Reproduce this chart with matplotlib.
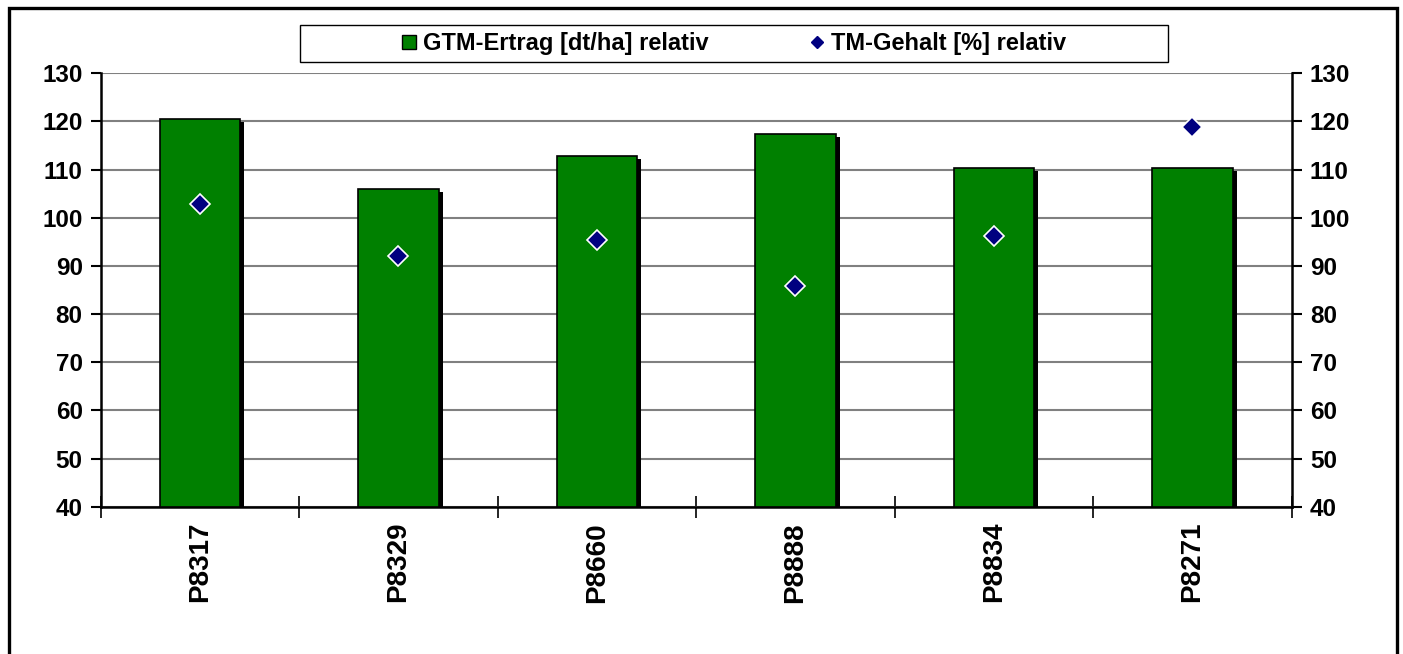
import matplotlib
matplotlib.use("Agg")
import matplotlib.pyplot as plt
from matplotlib.patches import Rectangle
from matplotlib.lines import Line2D
from matplotlib.transforms import ScaledTranslation
import numpy as np

categories = ["P8317", "P8329", "P8660", "P8888", "P8834", "P8271"]
ertrag = [120.5, 105.9, 112.8, 117.4, 110.3, 110.3]
tm_gehalt = [102.8, 92.1, 95.4, 85.8, 96.2, 118.8]
yticks = [40, 50, 60, 70, 80, 90, 100, 110, 120, 130]
label_bar = "GTM-Ertrag [dt/ha] relativ"
label_pt = "TM-Gehalt [%] relativ"

plt.rcParams['font.family'] = ['Liberation Sans', 'DejaVu Sans']
plt.rcParams['font.weight'] = 'bold'

W, H = 1403, 654
fig = plt.figure(figsize=(W / 100, H / 100), dpi=100)
ax = fig.add_axes([0.0718, 0.2252, 0.9207 - 0.0718, 0.8879 - 0.2252])

x = np.arange(len(categories))
width = 0.405
ymin = yticks[0]

# shadow
shadow_tr = ax.transData + ScaledTranslation(4 / 100, -3 / 100, fig.dpi_scale_trans)
for xi, v in zip(x, ertrag):
    r = Rectangle((xi - width / 2, ymin), width, v - ymin, facecolor='black',
                  edgecolor='none', transform=shadow_tr, zorder=2, clip_on=True)
    ax.add_patch(r)
    r.set_clip_box(ax.bbox)

ax.bar(x, [v - ymin for v in ertrag], bottom=ymin, width=width, color='#008000',
       edgecolor='black', linewidth=1.2, zorder=3)
ax.plot(x, tm_gehalt, linestyle='none', marker='D', markersize=10,
        markerfacecolor='#000080', markeredgecolor='white', markeredgewidth=1.2, zorder=4)

ax.set_xlim(-0.5, len(categories) - 0.5)
ax.set_ylim(yticks[0], yticks[-1])
ax.set_yticks(yticks)
ax.set_yticklabels([str(t) for t in yticks], fontsize=17.5, fontweight='bold')
ax.yaxis.grid(True, color='#808080', linewidth=1.5, zorder=0)
ax.set_axisbelow(True)

ax.set_xticks(x)
ax.set_xticklabels(categories, rotation=90, fontsize=20, fontweight='bold', va='top')
ax.tick_params(axis='x', length=0, pad=11)
ax.set_xticks(np.arange(-0.5, len(categories) + 0.5, 1), minor=True)
ax.tick_params(axis='x', which='minor', direction='inout', length=16, width=1.2)

ax.tick_params(axis='y', which='major', direction='out', length=7, width=1.5,
               left=True, right=True, labelleft=True, labelright=True, pad=6)

for s in ['left', 'right', 'bottom']:
    ax.spines[s].set_linewidth(1.8)
ax.spines['top'].set_visible(False)

handles = [
    Line2D([], [], linestyle='none', marker='s', markersize=9.5, markerfacecolor='#008000',
           markeredgecolor='black', markeredgewidth=1.0, label=label_bar),
    Line2D([], [], linestyle='none', marker='D', markersize=6, markerfacecolor='#000080',
           markeredgecolor='#000080', label=label_pt),
]
leg = fig.legend(handles=handles, loc='center', bbox_to_anchor=(734 / W, 1 - 43.5 / H), ncol=2,
                 frameon=False, prop={'weight': 'bold', 'size': 17},
                 handlelength=0.6, handletextpad=0.3, columnspacing=4.3, borderpad=0.2)

# legend box
fig.patches.append(Rectangle((300 / W, 1 - 62 / H), (1168 - 300) / W, (62 - 25) / H,
                             transform=fig.transFigure, fill=False, edgecolor='black',
                             linewidth=1.0))

# outer frame (bottom edge lies outside the image)
fig.patches.append(Rectangle((8.5 / W, 1 - 670 / H), (1397 - 8.5) / W, (670 - 8.5) / H,
                             transform=fig.transFigure, fill=False, edgecolor='black',
                             linewidth=2.4))

fig.savefig("out.png", dpi=100, facecolor='white')
